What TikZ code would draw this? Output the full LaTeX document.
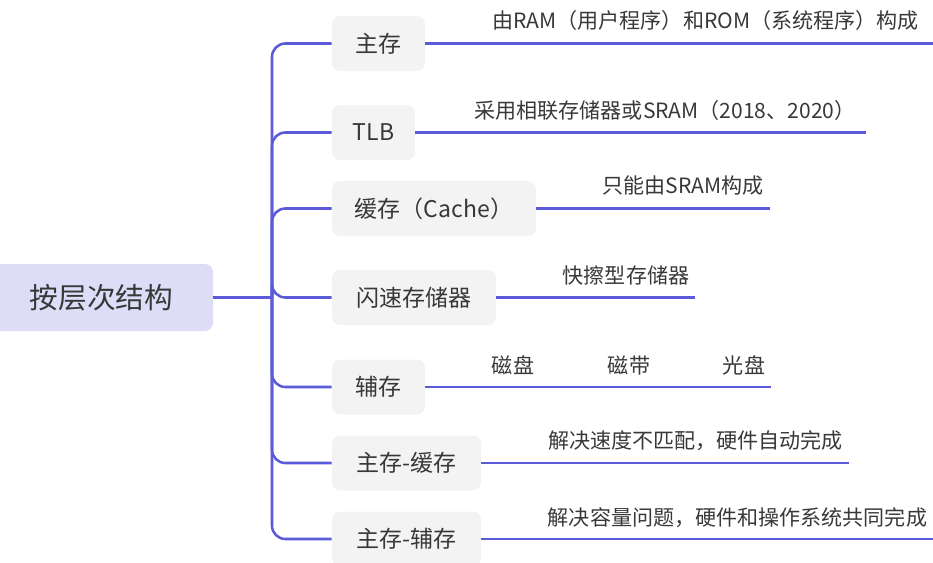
\documentclass[tikz,border=0pt]{standalone}
\usepackage{fontspec}
\setmainfont{Noto Sans CJK SC}
\definecolor{linec}{HTML}{5B5BD9}
\definecolor{rootfill}{HTML}{DDDDF8}
\definecolor{boxfill}{HTML}{F3F3F3}
\definecolor{txt}{HTML}{383838}
\begin{document}
\begin{tikzpicture}[x=0.75pt,y=-0.75pt,
  rootbox/.style={fill=rootfill, rounded corners=6pt, minimum width=167.25pt, minimum height=50.25pt, inner sep=0pt, text=txt, font=\fontsize{21.5}{24}\selectfont},
  childbox/.style={fill=boxfill, rounded corners=6pt, minimum height=41.25pt, inner sep=0pt, text=txt, font=\fontsize{17.25}{20}\selectfont},
  leaf/.style={inner sep=0pt, text=txt, font=\fontsize{15.8}{18}\selectfont},
  conn/.style={draw=linec, line width=1.9pt}]
\useasboundingbox (0,0) rectangle (933,562);
\node[rootbox] (root) at (101.5,297.5) {按层次结构};
\coordinate (j) at (272,297.5);
\node[childbox, minimum width=69.75pt] (c1) at (378.5,43.5) {主存};
\node[childbox, minimum width=62.25pt] (c2) at (373.5,132.5) {TLB};
\node[childbox, minimum width=153pt] (c3) at (434,208.5) {缓存（Cache）};
\node[childbox, minimum width=123pt] (c4) at (414,297.5) {闪速存储器};
\node[childbox, minimum width=69.75pt] (c5) at (378.5,387) {辅存};
\node[childbox, minimum width=111.75pt] (c6) at (406.5,463) {主存-缓存};
\node[childbox, minimum width=111.75pt] (c7) at (406.5,539) {主存-辅存};
\draw[conn] (root.east) -- (j);
\foreach \c in {c1,c2,c3,c4,c5,c6,c7}
  \draw[conn, rounded corners=10pt] (j) |- (\c.west);
\coordinate (e1) at (933,43.5);
\coordinate (e2) at (866,132.5);
\coordinate (e3) at (770,208.5);
\coordinate (e4) at (695,297.5);
\coordinate (e5) at (771,387);
\coordinate (e6) at (849,463);
\coordinate (e7) at (933,539);
\draw[conn] (c1.east) -- (e1);
\draw[conn] (c2.east) -- (e2);
\draw[conn] (c3.east) -- (e3);
\draw[conn] (c4.east) -- (e4);
\draw[conn] (c5.east) -- (e5);
\draw[conn] (c6.east) -- (e6);
\draw[conn] (c7.east) -- (e7);
\node[leaf] (l1) at (705.5,20) {由RAM（用户程序）和ROM（系统程序）构成};
\node[leaf] (l2) at (665,110) {采用相联存储器或SRAM（2018、2020）};
\node[leaf] (l3) at (683,186) {只能由SRAM构成};
\node[leaf] (l4) at (626,275) {快擦型存储器};
\node[leaf] (l5a) at (513,365) {磁盘};
\node[leaf] (l5b) at (629,365) {磁带};
\node[leaf] (l5c) at (744,365) {光盘};
\node[leaf] (l6) at (695.5,441) {解决速度不匹配，硬件自动完成};
\node[leaf] (l7) at (737.5,517.5) {解决容量问题，硬件和操作系统共同完成};
\end{tikzpicture}
\end{document}
